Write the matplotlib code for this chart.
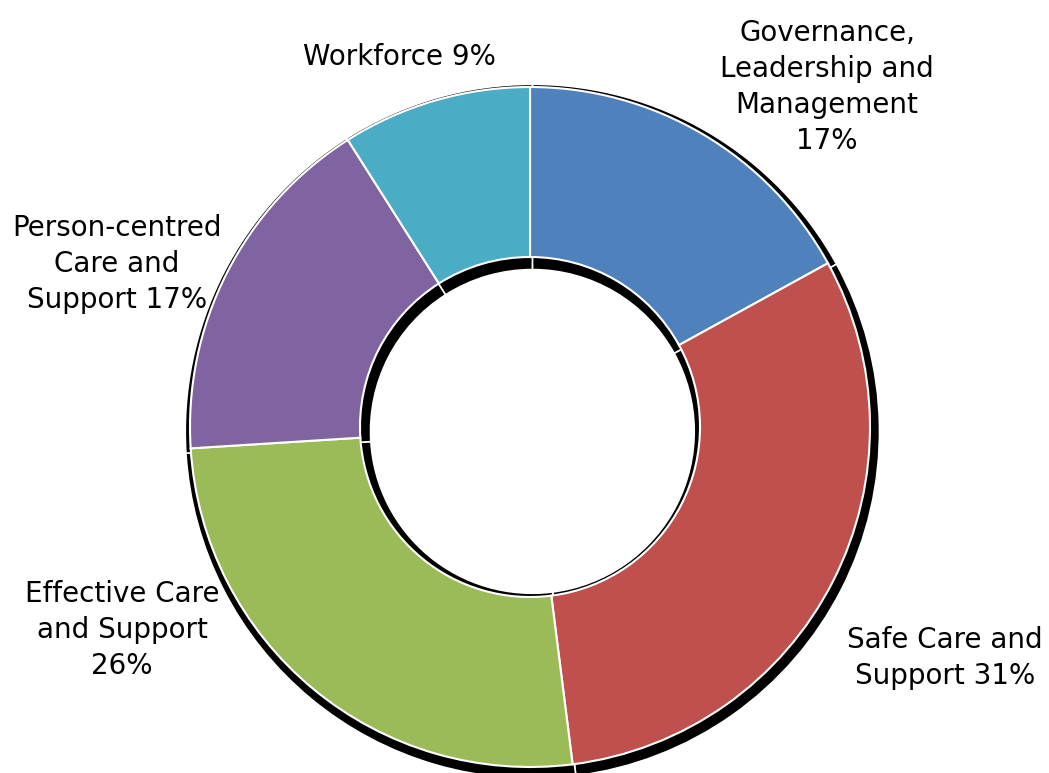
import matplotlib.pyplot as plt

labels = ["Governance,\nLeadership and\nManagement\n17%", "Safe Care and\nSupport 31%",
          "Effective Care\nand Support\n26%", "Person-centred\nCare and\nSupport 17%",
          "Workforce 9%"]
values = [17, 31, 26, 17, 9]
colors = ["#4F81BD", "#C0504D", "#9BBB59", "#8064A2", "#4BACC6"]
label_pos = [(0.874, 1.0), (1.221, -0.679), (-1.2, -0.597), (-1.215, 0.48), (-0.385, 1.088)]

fig = plt.figure(figsize=(10.49, 7.73), dpi=100)
ax = fig.add_axes([0, 0, 1, 1])

# shadow ring: a bit wider than the ring and shifted down
ax.pie(values, startangle=90, counterclock=False, radius=1.021, center=(0.007, -0.013),
       colors=["black"] * len(values),
       wedgeprops=dict(width=0.545, edgecolor="white", linewidth=1.2))
ax.pie(values, startangle=90, counterclock=False, radius=1, center=(0, 0),
       colors=colors, wedgeprops=dict(width=0.5, edgecolor="white", linewidth=1.5))

for lab, (x, y) in zip(labels, label_pos):
    ax.text(x, y, lab, ha="center", va="center", fontsize=20, linespacing=1.35,
            family="DejaVu Sans", color="black")

ax.set_xlim(-530 / 340, 519 / 340)
ax.set_ylim(-346 / 340, 427 / 340)
ax.set_aspect("equal")
ax.axis("off")

fig.savefig("out.png", dpi=100)
